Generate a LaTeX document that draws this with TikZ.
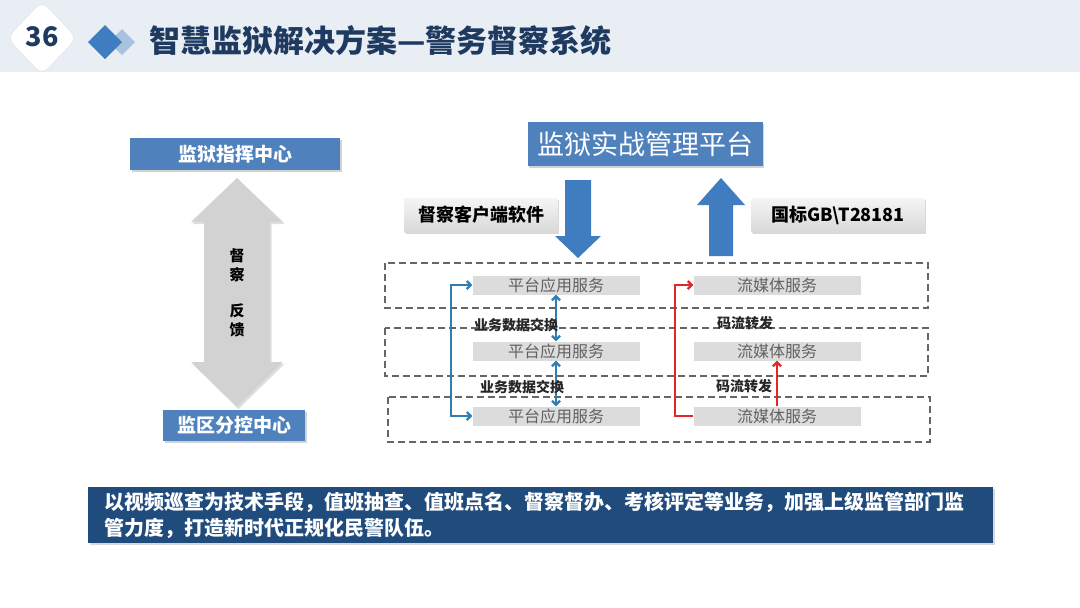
\documentclass[tikz,border=0pt]{standalone}
\usepackage{fontspec}
\setmainfont{Noto Sans CJK SC}
\usetikzlibrary{positioning,arrows.meta,shapes.geometric,shadows}

\definecolor{hdrbg}{HTML}{E9EEF4}
\definecolor{navy}{HTML}{1F3A60}
\definecolor{boxblue}{HTML}{4F81BD}
\definecolor{arrblue}{HTML}{3F7CC0}
\definecolor{lightdia}{HTML}{A9C2E0}
\definecolor{linkblue}{HTML}{2E7DB5}
\definecolor{linkred}{HTML}{E02828}
\definecolor{svcgray}{HTML}{DCDCDC}
\definecolor{notebg}{HTML}{1F4B7D}

\tikzset{
  centerbox/.style={fill=boxblue, text=white, inner sep=0pt,
    font=\bfseries\fontsize{19}{22}\selectfont,
    drop shadow={opacity=0.35, shadow xshift=1.5pt, shadow yshift=-2pt}},
  tagbox/.style={top color=gray!8, bottom color=gray!30, inner sep=0pt,
    font=\bfseries\fontsize{18}{21}\selectfont, minimum height=34pt,
    drop shadow={opacity=0.3, shadow xshift=1.5pt, shadow yshift=-2pt}},
  svcbox/.style={fill=svcgray, text=black!62, inner sep=0pt,
    minimum width=167pt, minimum height=19pt, font=\fontsize{16}{18}\selectfont},
  lane/.style={draw=black!60, line width=1.5pt, dash pattern=on 7pt off 4pt},
  xlabel/.style={font=\bfseries\fontsize{14}{16}\selectfont, text=black!85},
  bline/.style={draw=linkblue, line width=2.2pt, >={Straight Barb[length=4pt,width=8pt]}},
  rline/.style={draw=linkred, line width=2.2pt, >={Straight Barb[length=4pt,width=8pt]}}
}

\begin{document}
\begin{tikzpicture}[x=1pt, y=-1pt]
    \useasboundingbox (0,0) rectangle (1080,608);
    \fill[white] (0,0) rectangle (1080,608);

    % Header band
    \fill[hdrbg] (0,0) rectangle (1080,72);
    \node[diamond, rounded corners=9pt, fill=white, draw=gray!25, inner sep=0pt,
          minimum width=70pt, minimum height=74pt] (badge) at (42,38) {};
    \node[text=navy, font=\bfseries\fontsize{27}{30}\selectfont] (num) at (42,37) {36};
    \fill[lightdia] (122,29) -- (135,42) -- (122,55) -- (109,42) -- cycle;
    \fill[arrblue] (105,25) -- (122,42) -- (105,59) -- (88,42) -- cycle;
    \node[anchor=west, text=navy, font=\bfseries\fontsize{31}{34}\selectfont] (title) at (146,41)
        {智慧监狱解决方案—警务督察系统};

    % Left side: command centre and sub-centre
    \node[centerbox, minimum width=210pt, minimum height=32pt] (hq) at (235,154) {监狱指挥中心};
    \node[centerbox, minimum width=142pt, minimum height=31pt] (sub) at (234,425) {监区分控中心};

    % Double arrow between them
    \fill[gray!35, drop shadow={opacity=0.25, shadow xshift=1.5pt, shadow yshift=-2pt}]
        (237,178) -- (283,222) -- (270,222) -- (270,362) -- (283,362) -- (237,407)
        -- (191,362) -- (204,362) -- (204,222) -- (191,222) -- cycle;
    \node[font=\bfseries\fontsize{15}{17}\selectfont] (w1) at (237,256) {督};
    \node[font=\bfseries\fontsize{15}{17}\selectfont] (w2) at (237,275) {察};
    \node[font=\bfseries\fontsize{15}{17}\selectfont] (w3) at (237,311) {反};
    \node[font=\bfseries\fontsize{15}{17}\selectfont] (w4) at (237,330) {馈};

    % Platform on top
    \node[centerbox, font=\fontsize{27}{30}\selectfont, minimum width=235pt, minimum height=44pt]
        (plat) at (645,144) {监狱实战管理平台};
    \node[tagbox, minimum width=153pt] (client) at (481,215) {督察客户端软件};
    \node[tagbox, minimum width=173pt] (gb) at (838,215) {国标GB\textbackslash T28181};

    % Big blue arrows
    \fill[arrblue] (565,180) -- (591,180) -- (591,236) -- (601,236) -- (578,258)
        -- (555,236) -- (565,236) -- cycle;
    \fill[arrblue] (709,256) -- (733,256) -- (733,205) -- (745,205) -- (721,178)
        -- (697,205) -- (709,205) -- cycle;

    % Dashed lanes
    \draw[lane] (385,263) rectangle (928,308);
    \draw[lane] (385,328) rectangle (928,376);
    \draw[lane] (388,397) rectangle (930,442);

    % Services
    \node[svcbox] (pa1) at (556,285) {平台应用服务};
    \node[svcbox] (pa2) at (556,351) {平台应用服务};
    \node[svcbox] (pa3) at (556,416) {平台应用服务};
    \node[svcbox] (sm1) at (777,285) {流媒体服务};
    \node[svcbox] (sm2) at (777,351) {流媒体服务};
    \node[svcbox] (sm3) at (777,416) {流媒体服务};

    % Business data links
    \draw[bline, <->] (pa1.west) -- ++(-21,0) |- (pa3.west);
    \draw[bline, <->] (pa1.south) -- (pa2.north);
    \draw[bline, <->] (pa2.south) -- (pa3.north);
    \node[xlabel] (bx1) at (516,325) {业务数据交换};
    \node[xlabel] (bx2) at (522,387) {业务数据交换};

    % Stream forwarding links
    \draw[rline, ->] (sm3.west) -- ++(-18,0) |- (sm1.west);
    \draw[rline, ->] (sm3.north) -- (sm2.south);
    \node[xlabel] (rx1) at (745,323) {码流转发};
    \node[xlabel] (rx2) at (744,386) {码流转发};

    % Summary
    \node[fill=notebg, text=white, anchor=north west, inner sep=0pt, minimum width=905pt,
          minimum height=56pt, text width=889pt, align=left,
          font=\bfseries\fontsize{20}{26}\selectfont,
          drop shadow={opacity=0.3, shadow xshift=1.5pt, shadow yshift=-2pt}] (note) at (88,487)
        {\hspace*{8pt}以视频巡查为技术手段，值班抽查、值班点名、督察督办、考核评定等业务，加强上级监管部门监\\
         \hspace*{8pt}管力度，打造新时代正规化民警队伍。};
\end{tikzpicture}
\end{document}
